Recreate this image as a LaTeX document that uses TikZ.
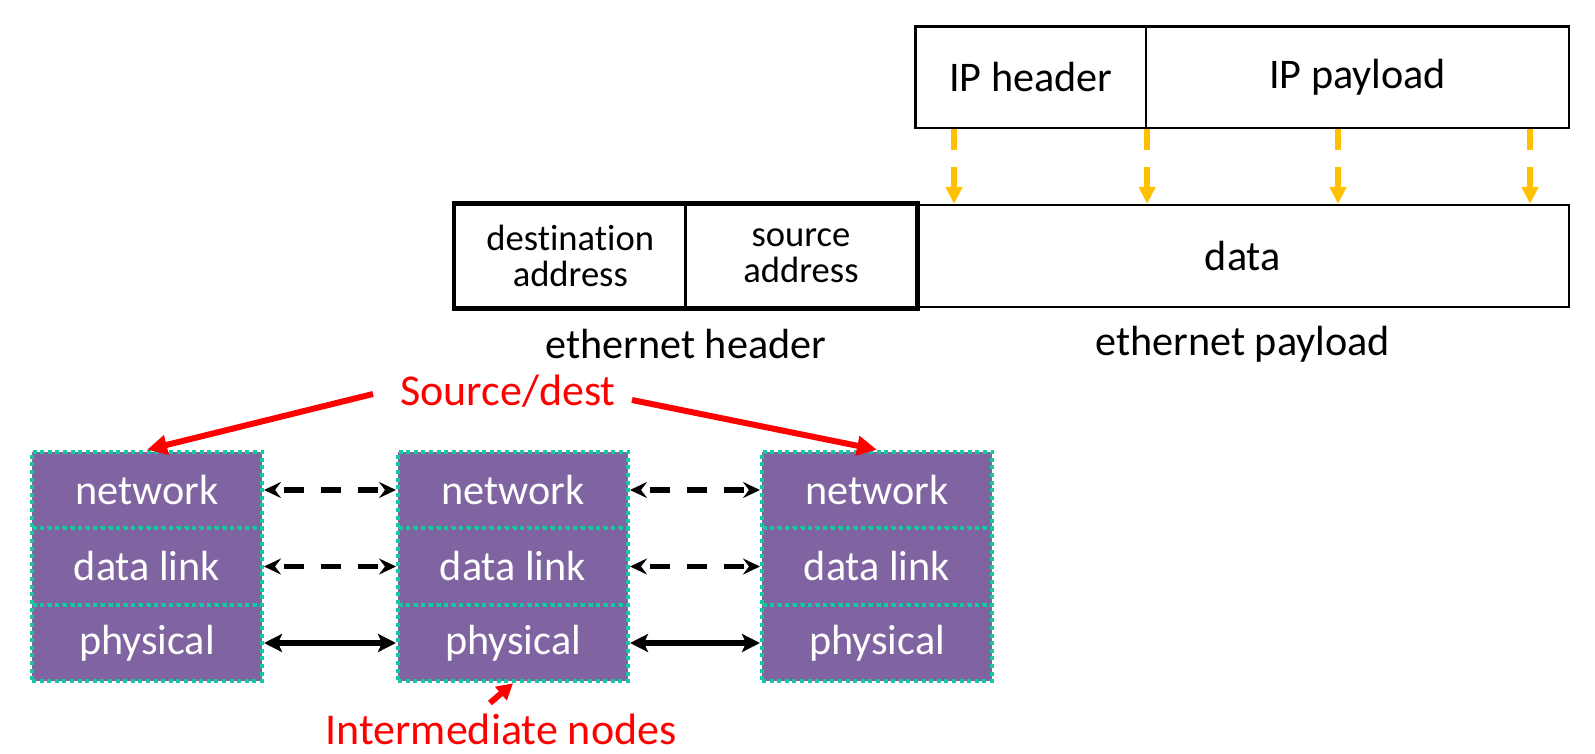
\documentclass[tikz,border=0pt]{standalone}
\usepackage{fontspec}
\setmainfont{Carlito}[Ligatures=NoCommon]
\usetikzlibrary{arrows.meta}
\definecolor{lpurple}{RGB}{128,100,162}
\definecolor{lteal}{RGB}{20,200,160}
\definecolor{ipyellow}{RGB}{255,192,0}
\definecolor{hred}{RGB}{255,0,0}
\begin{document}
\begin{tikzpicture}[x=0.5pt,y=-0.5pt,
  field/.style={draw=black, line width=1.1pt, inner sep=0pt, anchor=center,
    font=\fontsize{21.1}{25}\selectfont},
  smallfield/.style={field, align=center, font=\fontsize{18.3}{17.8}\selectfont},
  lbl/.style={inner sep=0pt, font=\fontsize{21.1}{25}\selectfont},
  layer/.style={fill=lpurple, draw=lteal, line width=2pt, dash pattern=on 2pt off 1.8pt,
    minimum width=115pt, minimum height=38.25pt, inner sep=0pt, text=white,
    font=\fontsize{21.1}{25}\selectfont},
  hand/.style={inner sep=0pt, text=hred, font=\fontsize{22}{26}\selectfont},
  yarrow/.style={draw=ipyellow, line width=3pt, dash pattern=on 10.5pt off 8.5pt,
    -{Triangle[length=8.5pt,width=8pt]}},
  peerdash/.style={draw=black, line width=2.6pt, dash pattern=on 10pt off 8.5pt, dash phase=-5pt,
    {Stealth[length=8.5pt,width=8pt,inset=3pt]}-{Stealth[length=8.5pt,width=8pt,inset=3pt]}},
  peersolid/.style={draw=black, line width=3pt,
    {Stealth[length=9pt,width=9pt,inset=2pt]}-{Stealth[length=9pt,width=9pt,inset=2pt]}},
  redarrow/.style={draw=hred, line width=3pt, -{Triangle[length=10pt,width=9.5pt]}}
]
\useasboundingbox (0,0) rectangle (1595,754);

% IP packet
\node[field, minimum width=115.25pt, minimum height=50.75pt] (iph) at (1030.75,77.25) {IP header};
\node[field, minimum width=211.5pt, minimum height=50.75pt] (ipp) at (1357.5,77.25) {IP payload};

% Ethernet frame
\node[smallfield, minimum width=115.3pt, minimum height=51pt] (dst) at (570.3,256) {destination\\address};
\node[smallfield, minimum width=115.45pt, minimum height=51pt] (src) at (801,256) {source\\address};
\node[field, minimum width=326.25pt, minimum height=51pt] (data) at (1242.75,256) {data};
\draw[line width=2.4pt] (dst.north west) rectangle (src.south east);

\node[lbl] (ethh) at (685.75,344) {ethernet header};
\node[lbl] (ethp) at (1242.75,344) {ethernet payload};

% yellow mapping arrows
\draw[yarrow] (954,0 |- iph.south) -- (954,0 |- data.north);
\draw[yarrow] (iph.south east) -- (iph.south east |- data.north);
\draw[yarrow] (1338,0 |- ipp.south) -- (1338,0 |- data.north);
\draw[yarrow] (1530,0 |- ipp.south) -- (1530,0 |- data.north);

% protocol stacks
\node[layer] (n1) at (147,490) {network};
\node[layer] (d1) at (147,566.5) {data link};
\node[layer] (p1) at (147,643) {physical};
\node[layer] (n2) at (513,490) {network};
\node[layer] (d2) at (513,566.5) {data link};
\node[layer] (p2) at (513,643) {physical};
\node[layer] (n3) at (877,490) {network};
\node[layer] (d3) at (877,566.5) {data link};
\node[layer] (p3) at (877,643) {physical};

\draw[peerdash] (n1.east) -- (n2.west);
\draw[peerdash] (d1.east) -- (d2.west);
\draw[peersolid] (p1.east) -- (p2.west);
\draw[peerdash] (n2.east) -- (n3.west);
\draw[peerdash] (d2.east) -- (d3.west);
\draw[peersolid] (p2.east) -- (p3.west);

% annotations
\node[hand] (sd) at (508,391) {Source/dest};
\draw[redarrow] ([shift={(-27,3)}]sd.west) -- (n1.north);
\draw[redarrow] ([shift={(16,9)}]sd.east) -- (n3.north);

\node[hand] (im) at (501,729) {Intermediate nodes};
\coordinate (imtail) at (490,703);
\draw[redarrow, -{Triangle[length=8pt,width=8.5pt]}] (imtail) -- (p2.south);
\end{tikzpicture}
\end{document}
